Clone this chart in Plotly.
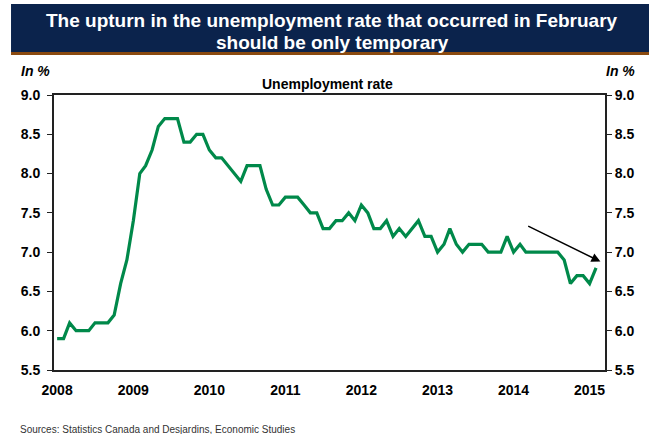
import pandas as pd
import plotly.graph_objects as go

# Monthly unemployment rate, Canada, Jan 2008 - Feb 2015 (in %)
start_month = "2008-01-01"
rate = [
    5.9, 5.9, 6.1, 6.0, 6.0, 6.0, 6.1, 6.1, 6.1, 6.2, 6.6, 6.9,   # 2008
    7.4, 8.0, 8.1, 8.3, 8.6, 8.7, 8.7, 8.7, 8.4, 8.4, 8.5, 8.5,   # 2009
    8.3, 8.2, 8.2, 8.1, 8.0, 7.9, 8.1, 8.1, 8.1, 7.8, 7.6, 7.6,   # 2010
    7.7, 7.7, 7.7, 7.6, 7.5, 7.5, 7.3, 7.3, 7.4, 7.4, 7.5, 7.4,   # 2011
    7.6, 7.5, 7.3, 7.3, 7.4, 7.2, 7.3, 7.2, 7.3, 7.4, 7.2, 7.2,   # 2012
    7.0, 7.1, 7.3, 7.1, 7.0, 7.1, 7.1, 7.1, 7.0, 7.0, 7.0, 7.2,   # 2013
    7.0, 7.1, 7.0, 7.0, 7.0, 7.0, 7.0, 7.0, 6.9, 6.6, 6.7, 6.7,   # 2014
    6.6, 6.8,                                                     # 2015
]
months = pd.date_range(start_month, periods=len(rate), freq="MS")

year_ticks = ["2008", "2009", "2010", "2011", "2012", "2013", "2014", "2015"]
y_ticks = [5.5, 6.0, 6.5, 7.0, 7.5, 8.0, 8.5, 9.0]

# trend arrow (tail -> head), data coordinates
arrow_tail = ("2014-03-05", 7.34)
arrow_head = ("2015-02-22", 6.88)

title_lines = ["The upturn in the unemployment rate that occurred in February",
               "should be only temporary"]
subtitle_text = "Unemployment rate"
unit_text = "In %"
source_text = "Sources: Statistics Canada and Desjardins, Economic Studies"

FONT = "Arial, 'Liberation Sans', sans-serif"
GREEN = "rgb(0,137,74)"
AXIS = "#222222"

fig = go.Figure()
fig.add_trace(go.Scatter(x=months, y=rate, mode="lines",
                         line=dict(color=GREEN, width=3.2),
                         showlegend=False, hoverinfo="x+y"))
fig.add_trace(go.Scatter(x=months, y=rate, mode="lines", yaxis="y2",
                         line=dict(color="rgba(0,0,0,0)", width=0),
                         showlegend=False, hoverinfo="skip"))

yaxis_common = dict(
    range=[5.5, 9.0], tickvals=y_ticks, tickformat=".1f",
    ticks="outside", ticklen=5, tickwidth=1, tickcolor=AXIS,
    showline=True, linecolor=AXIS, linewidth=2,
    showgrid=False, zeroline=False,
    tickfont=dict(family=FONT, size=14, color="black", weight="bold"),
)

fig.update_layout(
    width=649, height=434,
    margin=dict(l=54, r=44, t=95, b=64),
    paper_bgcolor="white", plot_bgcolor="white",
    font=dict(family=FONT, color="black"),
    xaxis=dict(
        type="date", range=["2007-12-17", "2015-03-16"],
        tickvals=[f"{y}-01-01" for y in year_ticks], ticktext=year_ticks,
        ticks="", showline=True, mirror=True, linecolor=AXIS, linewidth=2,
        showgrid=False, zeroline=False, ticklabelstandoff=6,
        tickfont=dict(family=FONT, size=14, color="black", weight="bold"),
    ),
    yaxis=dict(side="left", ticklabelstandoff=4, **yaxis_common),
    yaxis2=dict(side="right", overlaying="y", matches="y", **yaxis_common),
)

# title banner
fig.add_shape(type="rect", xref="paper", yref="paper",
              x0=-0.078, x1=1.09, y0=1.1564, y1=1.331,
              fillcolor="#0b234c", line=dict(width=0), layer="below")
fig.add_shape(type="rect", xref="paper", yref="paper",
              x0=-0.078, x1=1.09, y0=1.1455, y1=1.1564,
              fillcolor="#8a4a10", line=dict(width=0), layer="below")

for line_text, ypos in zip(title_lines, [1.2727, 1.1927]):
    fig.add_annotation(text=f"<b>{line_text}</b>", xref="paper", yref="paper",
                       x=0.505, y=ypos, xanchor="center", yanchor="middle",
                       showarrow=False,
                       font=dict(family=FONT, size=19, color="white"))
fig.add_annotation(text=f"<b>{subtitle_text}</b>", xref="paper", yref="paper",
                   x=0.497, y=1.04, xanchor="center", yanchor="middle",
                   showarrow=False, font=dict(family=FONT, size=14, color="black"))
fig.add_annotation(text=f"<b><i>{unit_text}</i></b>", xref="paper", yref="paper",
                   x=-0.034, y=1.087, xanchor="center", yanchor="middle",
                   showarrow=False, font=dict(family=FONT, size=14, color="black"))
fig.add_annotation(text=f"<b><i>{unit_text}</i></b>", xref="paper", yref="paper",
                   x=1.028, y=1.087, xanchor="center", yanchor="middle",
                   showarrow=False, font=dict(family=FONT, size=14, color="black"))
fig.add_annotation(text=source_text, xref="paper", yref="paper",
                   x=-0.065, y=-0.215, xanchor="left", yanchor="middle",
                   showarrow=False, font=dict(family=FONT, size=10, color="#333333"))

# trend arrow
fig.add_annotation(x=arrow_head[0], y=arrow_head[1], ax=arrow_tail[0], ay=arrow_tail[1],
                   xref="x", yref="y", axref="x", ayref="y", text="",
                   showarrow=True, arrowhead=2, arrowsize=1.2, arrowwidth=1.5,
                   arrowcolor="black")

fig.write_html("out.html")
